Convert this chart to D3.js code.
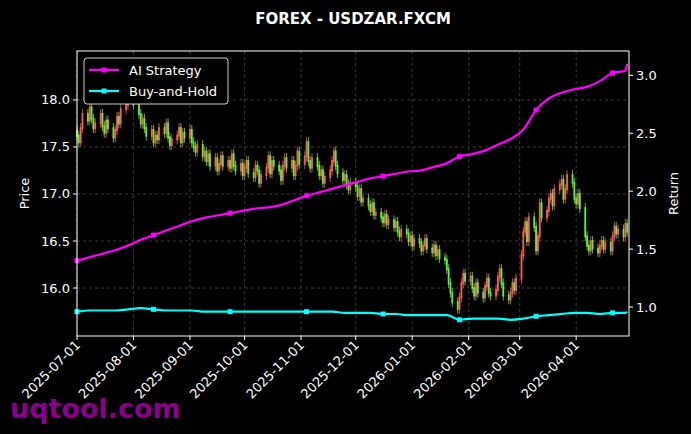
<!DOCTYPE html><html><head><meta charset="utf-8"><script src="https://cdn.jsdelivr.net/npm/d3@7"></script>
<style>body{margin:0;background:#000}svg{font-family:"DejaVu Sans",sans-serif}</style></head><body><svg id="c" width="691" height="434"></svg><script>
const startDate="2025-07-01";
const closes=[17.62,17.55,17.70,17.85,
17.78,17.92,17.80,17.70,17.75, 17.85,17.72,17.65,17.78,17.70, 17.60,17.68,17.82,17.75,17.90,
17.95,18.05,18.20,18.10,17.95, 17.85,17.75,17.80,17.70,17.62, 17.68,17.55,17.62,17.58,17.70,
17.65,17.75,17.60,17.52,17.58, 17.62,17.70,17.55,17.65,17.60, 17.68,17.55,17.50,17.45,17.52,
17.40,17.45,17.35,17.42,17.30, 17.38,17.25,17.32,17.40,17.30, 17.35,17.28,17.42,17.30,17.25,
17.32,17.20,17.28,17.35,17.22, 17.18,17.30,17.25,17.12,17.20, 17.28,17.40,17.22,17.35,17.30,
17.25,17.15,17.30,17.38,17.28, 17.35,17.20,17.30,17.45,17.32, 17.40,17.55,17.35,17.28,17.38,
17.30,17.20,17.25,17.12,17.18, 17.25,17.35,17.45,17.30,17.22, 17.15,17.20,17.10,17.05,17.12,
17.08,16.98,17.05,16.92,16.95, 16.88,16.82,16.90,16.78,16.80, 16.75,16.70,16.78,16.68,16.72,
16.65,16.70,16.60,16.55,16.62, 16.58,16.50,16.55,16.45,16.52, 16.48,16.40,16.45,16.52,16.42,
16.38,16.45,16.35,16.40,16.32, 16.30,16.20,16.05,15.95,15.85, 15.78,15.90,16.05,16.15,16.08,
16.12,16.00,15.92,16.05,15.95, 15.90,16.02,16.10,15.95,15.92, 15.98,16.12,16.20,16.05,15.92,
15.88,15.95,16.05,15.98,16.10, 16.35,16.60,16.70,16.50,16.75, 16.65,16.40,16.55,16.90,16.75,
16.82,16.95,17.00,16.88,17.05, 17.10,17.15,16.95,17.05,17.20, 17.12,16.95,16.90,17.00,16.85,
16.55,16.45,16.40,16.50,16.42, 16.38,16.45,16.50,16.42,16.48, 16.40,16.55,16.65,16.58,16.62,
16.55,16.68,16.60];
const aiWeekly=[1.40,1.43,1.46,1.49,1.53,1.58,1.62,1.66,1.70,1.74,1.77,1.79,1.81,1.83,1.85,1.86,1.88,1.92,1.96,1.99,2.02,2.05,2.08,2.11,2.13,2.15,2.17,2.18,2.21,2.24,2.30,2.32,2.35,2.40,2.45,2.53,2.70,2.80,2.85,2.88,2.90,2.95,3.02,3.04,3.10];
const bhWeekly=[0.96,0.97,0.97,0.97,0.98,0.99,0.98,0.97,0.97,0.97,0.96,0.96,0.96,0.96,0.96,0.96,0.96,0.96,0.96,0.96,0.96,0.95,0.95,0.95,0.94,0.94,0.93,0.93,0.93,0.93,0.89,0.90,0.90,0.90,0.89,0.90,0.92,0.93,0.94,0.95,0.95,0.94,0.95,0.95,0.96];
const xTicks=["2025-07-01","2025-08-01","2025-09-01","2025-10-01","2025-11-01","2025-12-01","2026-01-01","2026-02-01","2026-03-01","2026-04-01"];
const yLeftTicks=[16.0,16.5,17.0,17.5,18.0];
const yRightTicks=[1.0,1.5,2.0,2.5,3.0];

const svg=d3.select("#c");
const L=77,R=629,T=51,B=336;
const dates=[];let d=new Date(startDate+"T00:00:00");
while(dates.length<closes.length){const w=d.getDay();if(w>0&&w<6)dates.push(new Date(d));d=new Date(d.getTime()+864e5);}
const lineDates=aiWeekly.map((v,i)=>dates[Math.min(i*5,dates.length-1)]);
const x=d3.scaleTime().domain([new Date("2025-07-01T00:00:00"),new Date("2026-04-30T00:00:00")]).range([L,R]);
const y=d3.scaleLinear().domain([15.49,18.52]).range([B,T]);
const y2=d3.scaleLinear().domain([0.75,3.21]).range([B,T]);
svg.append("rect").attr("width",691).attr("height",434).attr("fill","#000");
const g=svg.append("g");
xTicks.forEach(t=>g.append("line").attr("x1",x(new Date(t+"T00:00:00"))).attr("x2",x(new Date(t+"T00:00:00"))).attr("y1",T).attr("y2",B).attr("stroke","#555").attr("stroke-dasharray","3,3").attr("stroke-width",0.7));
yLeftTicks.forEach(t=>g.append("line").attr("x1",L).attr("x2",R).attr("y1",y(t)).attr("y2",y(t)).attr("stroke","#555").attr("stroke-dasharray","3,3").attr("stroke-width",0.7));
closes.forEach((c,i)=>{const o=i?closes[i-1]:c+0.05;const xi=x(dates[i]);
 g.append("line").attr("x1",xi).attr("x2",xi).attr("y1",y(Math.max(o,c))-5).attr("y2",y(Math.min(o,c))+5).attr("stroke",c>=o?"#ff5a5a":"#5ef03c").attr("stroke-width",0.8);
 g.append("rect").attr("x",xi-0.9).attr("width",1.8).attr("y",y(Math.max(o,c))-1).attr("height",Math.abs(y(o)-y(c))+2)
  .attr("fill",c>=o?"#ff5a5a":"#5ef03c");});
const ln=(arr,sc)=>d3.line().x((v,i)=>x(lineDates[i])).y(v=>sc(v)).curve(d3.curveMonotoneX)(arr);
g.append("path").attr("d",ln(aiWeekly,y2)).attr("fill","none").attr("stroke","#ff00ff").attr("stroke-width",2.2);
g.append("path").attr("d",ln(bhWeekly,y2)).attr("fill","none").attr("stroke","#00ffff").attr("stroke-width",2.2);
[aiWeekly,bhWeekly].forEach((a,k)=>a.forEach((v,i)=>{if(i%6==0)g.append("rect").attr("x",x(lineDates[i])-2.5).attr("y",y2(v)-2.5).attr("width",5).attr("height",5).attr("fill",k?"#00ffff":"#ff00ff");}));
svg.append("rect").attr("x",L).attr("y",T).attr("width",R-L).attr("height",B-T).attr("fill","none").attr("stroke","#fff").attr("stroke-width",1);
yLeftTicks.forEach(t=>{svg.append("line").attr("x1",L-4).attr("x2",L).attr("y1",y(t)).attr("y2",y(t)).attr("stroke","#fff");
 svg.append("text").attr("x",L-7).attr("y",y(t)+4.5).attr("text-anchor","end").attr("fill","#fff").attr("font-size",13).text(t.toFixed(1));});
yRightTicks.forEach(t=>{svg.append("line").attr("x1",R).attr("x2",R+4).attr("y1",y2(t)).attr("y2",y2(t)).attr("stroke","#fff");
 svg.append("text").attr("x",R+7).attr("y",y2(t)+4.5).attr("fill","#fff").attr("font-size",13).text(t.toFixed(1));});
xTicks.forEach(t=>{const xi=x(new Date(t+"T00:00:00"));svg.append("line").attr("x1",xi).attr("x2",xi).attr("y1",B).attr("y2",B+4).attr("stroke","#fff");
 svg.append("text").attr("transform",`translate(${xi+4},${B+10}) rotate(-45)`).attr("text-anchor","end").attr("fill","#fff").attr("font-size",13).text(t);});
svg.append("text").attr("transform",`translate(29,${(T+B)/2}) rotate(-90)`).attr("text-anchor","middle").attr("fill","#fff").attr("font-size",13).text("Price");
svg.append("text").attr("transform",`translate(678,${(T+B)/2}) rotate(-90)`).attr("text-anchor","middle").attr("fill","#fff").attr("font-size",13).text("Return");
svg.append("text").attr("x",353).attr("y",24).attr("text-anchor","middle").attr("fill","#fff").attr("font-size",15).attr("font-weight","bold").text("FOREX - USDZAR.FXCM");
const lg=svg.append("g");
lg.append("rect").attr("x",84).attr("y",58).attr("width",144).attr("height",46).attr("rx",3).attr("fill","#000").attr("stroke","#ccc");
[["AI Strategy","#ff00ff"],["Buy-and-Hold","#00ffff"]].forEach(([n,c],i)=>{const yy=70+i*21;
 lg.append("line").attr("x1",89).attr("x2",119).attr("y1",yy).attr("y2",yy).attr("stroke",c).attr("stroke-width",2.2);
 lg.append("rect").attr("x",101.5).attr("y",yy-2.5).attr("width",5).attr("height",5).attr("fill",c);
 lg.append("text").attr("x",129).attr("y",yy+4.5).attr("fill","#fff").attr("font-size",13).text(n);});
svg.append("text").attr("x",10).attr("y",418).attr("fill","#8b008b").attr("font-size",27).attr("font-weight","bold").text("uqtool.com");
</script></body></html>
